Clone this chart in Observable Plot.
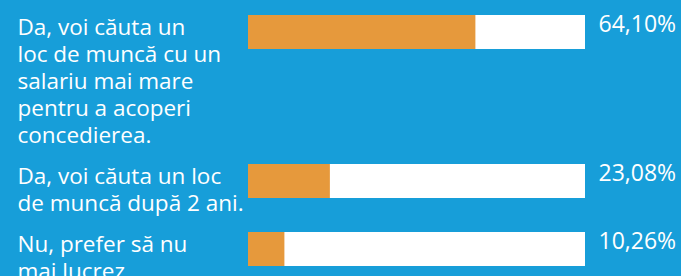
<!DOCTYPE html>
<html>
<head>
<meta charset="utf-8">
<script src="https://cdn.jsdelivr.net/npm/d3@7"></script>
<script src="https://cdn.jsdelivr.net/npm/@observablehq/plot@0.6"></script>
<style>
  html, body { margin: 0; padding: 0; background: #179ed9; overflow: hidden; }
  #chart { width: 681px; height: 276px; }
</style>
</head>
<body>
<div id="chart"></div>
<script>
// Data
const labels = [
  "Da, voi căuta un\nloc de muncă cu un\nsalariu mai mare\npentru a acoperi\nconcedierea.",
  "Da, voi căuta un loc\nde muncă după 2 ani.",
  "Nu, prefer să nu\nmai lucrez."
];
const values = [64.10, 23.08, 10.26];
const valueLabels = ["64,10%", "23,08%", "10,26%"];
const trackMax = 95;

// Layout styles
const BG = "#179ed9";
const ORANGE = "#e6993c";
const FONT_PX = 22.5;
const LINE_PX = 27;
const ROW_GAP = 14;
const FIRST_TOP = 15;
const BAR_H = 34;

let rowTop = FIRST_TOP;
const rows = labels.map((label, i) => {
  const r = {label, value: values[i], text: valueLabels[i], y1: rowTop, y2: rowTop + BAR_H};
  rowTop += label.split("\n").length * LINE_PX + ROW_GAP;
  return r;
});

const chart = Plot.plot({
  width: 681,
  height: 276,
  marginLeft: 248,
  marginRight: 96,
  marginTop: 0,
  marginBottom: 0,
  x: {domain: [0, trackMax], axis: null},
  y: {type: "identity", axis: null},
  style: {background: BG, fontFamily: "'Open Sans', sans-serif", fontSize: FONT_PX + "px", color: "white", overflow: "hidden"},
  marks: [
    Plot.rect(rows, {x1: 0, x2: trackMax, y1: "y1", y2: "y2", fill: "white"}),
    Plot.rect(rows, {x1: 0, x2: "value", y1: "y1", y2: "y2", fill: ORANGE}),
    Plot.text(rows, {
      y: "y1", text: "label", frameAnchor: "left", dx: -231,
      textAnchor: "start", lineAnchor: "top", lineHeight: LINE_PX / FONT_PX,
      fill: "white", fontSize: FONT_PX
    }),
    Plot.text(rows, {
      x: () => trackMax, y: "y1", text: "text", dx: 13,
      textAnchor: "start", lineAnchor: "top",
      fill: "white", fontSize: 23
    })
  ]
});
document.getElementById("chart").appendChild(chart);
</script>
</body>
</html>
